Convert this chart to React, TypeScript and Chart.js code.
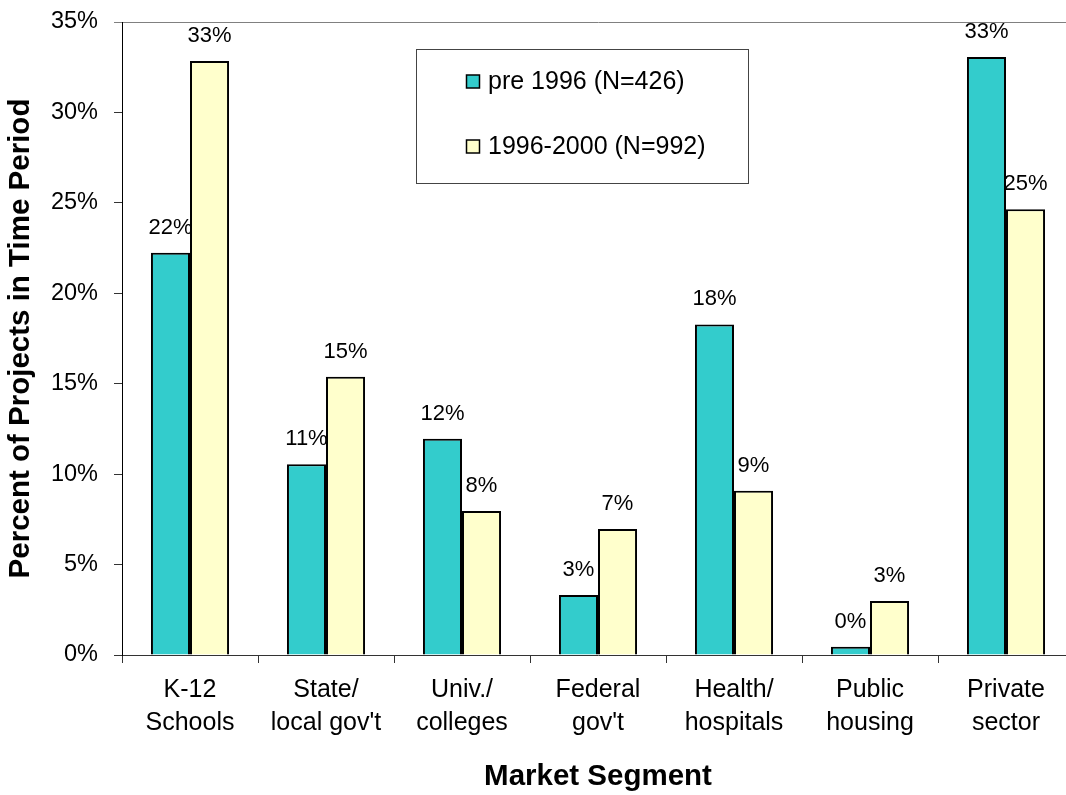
import React, { useEffect, useRef } from "react";
import { Chart, registerables } from "chart.js";

Chart.register(...registerables);

const FONT = "'Liberation Sans', Arial, Helvetica, sans-serif";

const categories: string[][] = [
  ["K-12", "Schools"],
  ["State/", "local gov't"],
  ["Univ./", "colleges"],
  ["Federal", "gov't"],
  ["Health/", "hospitals"],
  ["Public", "housing"],
  ["Private", "sector"],
];

const seriesLabels = ["pre 1996 (N=426)", "1996-2000 (N=992)"];
const pre1996 = [22.24, 10.55, 11.96, 3.32, 18.28, 0.46, 33.06];
const period1996to2000 = [32.84, 15.38, 7.96, 6.97, 9.08, 2.98, 24.65];

const seriesColors = ["#33CCCC", "#FFFFCC"];

const yMin = 0;
const yMax = 35;
const yStep = 5;

const yTitle = "Percent of Projects in Time Period";
const xTitle = "Market Segment";

const valueLabels = {
  id: "valueLabels",
  afterDatasetsDraw(chart: any) {
    const ctx = chart.ctx;
    ctx.save();
    ctx.font = `22px ${FONT}`;
    ctx.fillStyle = "#000";
    ctx.textAlign = "center";
    ctx.textBaseline = "alphabetic";
    chart.data.datasets.forEach((ds: any, i: number) => {
      const meta = chart.getDatasetMeta(i);
      meta.data.forEach((bar: any, j: number) => {
        const v = ds.data[j];
        ctx.fillText(Math.round(v) + "%", bar.x, bar.y - 19);
      });
    });
    ctx.restore();
  },
};

const boxLegend = {
  id: "boxLegend",
  afterDraw(chart: any) {
    const ctx = chart.ctx;
    ctx.save();
    ctx.fillStyle = "#fff";
    ctx.fillRect(416.5, 49.5, 332, 134);
    ctx.strokeStyle = "#444";
    ctx.lineWidth = 1;
    ctx.strokeRect(416.5, 49.5, 332, 134);
    const rows = [81, 146];
    chart.data.datasets.forEach((ds: any, i: number) => {
      const cy = rows[i];
      ctx.fillStyle = ds.backgroundColor;
      ctx.fillRect(466.5, cy - 6, 13, 13);
      ctx.strokeStyle = "#000";
      ctx.lineWidth = 1.5;
      ctx.strokeRect(466.5, cy - 6, 13, 13);
      ctx.fillStyle = "#000";
      ctx.font = `25px ${FONT}`;
      ctx.textAlign = "left";
      ctx.textBaseline = "middle";
      ctx.fillText(ds.label, 488, cy + 1);
    });
    ctx.restore();
  },
};

export default function App() {
  const canvasRef = useRef<HTMLCanvasElement | null>(null);

  useEffect(() => {
    if (!canvasRef.current) return;
    Chart.defaults.font.family = FONT;
    const chart = new Chart(canvasRef.current, {
      type: "bar",
      data: {
        labels: categories,
        datasets: [
          {
            label: seriesLabels[0],
            data: pre1996,
            backgroundColor: seriesColors[0],
            borderColor: "#000",
            borderWidth: 2,
            barPercentage: 1,
            categoryPercentage: 0.574,
          },
          {
            label: seriesLabels[1],
            data: period1996to2000,
            backgroundColor: seriesColors[1],
            borderColor: "#000",
            borderWidth: 2,
            barPercentage: 1,
            categoryPercentage: 0.574,
          },
        ],
      },
      options: {
        responsive: false,
        animation: false,
        devicePixelRatio: 1,
        layout: { padding: { top: 22, right: 2, left: 0, bottom: 0 } },
        plugins: {
          legend: { display: false },
          tooltip: { enabled: false },
        },
        scales: {
          x: {
            grid: {
              offset: true,
              drawOnChartArea: false,
              tickLength: 8,
              color: "#333",
              tickColor: "#333",
            },
            border: { color: "#333", width: 1 },
            ticks: {
              font: { size: 25, lineHeight: 1.32 },
              color: "#000",
              padding: 11,
              maxRotation: 0,
              autoSkip: false,
            },
            title: {
              display: true,
              text: xTitle,
              font: { size: 29.5, weight: "bold" },
              color: "#000",
              padding: { top: 0, bottom: 0 },
            },
            afterFit: (s: any) => {
              s.height = 140;
              s.paddingLeft = 0;
              s.paddingRight = 0;
            },
          },
          y: {
            min: yMin,
            max: yMax,
            ticks: {
              stepSize: yStep,
              callback: (v: any) => v + "%",
              font: { size: 23.5 },
              color: "#000",
              padding: 16,
            },
            grid: {
              color: (c: any) =>
                c.tick && c.tick.value === yMax ? "#808080" : "rgba(0,0,0,0)",
              tickColor: (c: any) =>
                c.tick && c.tick.value === yMax ? "#808080" : "#333",
              tickLength: 8,
              lineWidth: 1,
            },
            border: { color: "#000", width: 1 },
            title: {
              display: true,
              text: yTitle,
              font: { size: 29.5, weight: "bold" },
              color: "#000",
              padding: { top: 3, bottom: 0 },
            },
            afterFit: (s: any) => {
              s.width = 122;
              s.paddingTop = 0;
              s.paddingBottom = 0;
            },
          },
        },
      },
      plugins: [valueLabels, boxLegend],
    } as any);
    return () => chart.destroy();
  }, []);

  return (
    <div
      style={{
        position: "absolute",
        left: 0,
        top: 0,
        width: 1066,
        height: 795,
        overflow: "hidden",
        background: "#fff",
      }}
    >
      <canvas
        ref={canvasRef}
        width={1076}
        height={795}
        style={{ display: "block", width: 1076, height: 795 }}
      />
    </div>
  );
}
